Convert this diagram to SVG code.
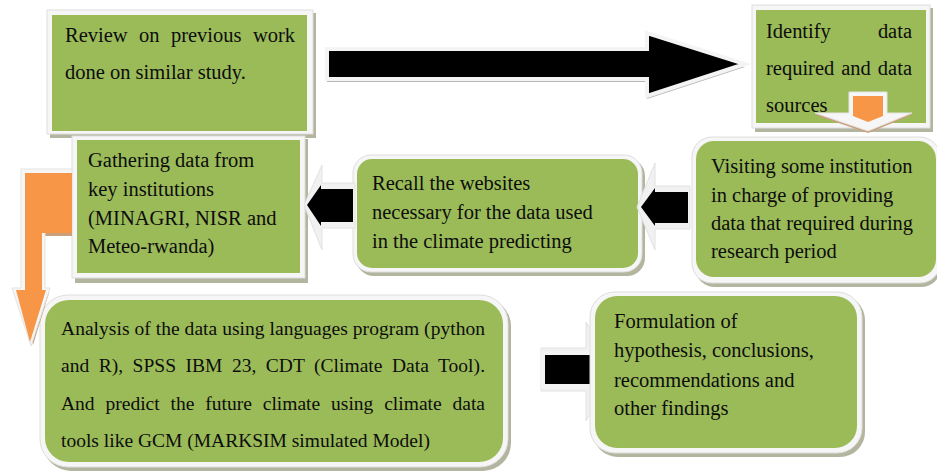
<svg xmlns="http://www.w3.org/2000/svg" width="937" height="472" viewBox="0 0 937 472">
<style>
.frame{fill:#f6f6f6;stroke:#dedede;stroke-width:1}
.fill{fill:#9BBB59}
.shadow{fill:#b3b59f}
.t{font-family:"Liberation Serif","Times New Roman",serif;font-size:20.5px;fill:#0d0d0d}
.s{font-size:19.5px}
.blk{fill:#000;stroke:#f4f4f4;stroke-width:4;stroke-linejoin:miter}
.lite{fill:#f1f1f1;stroke:#e2e2e2;stroke-width:1}
.ashadow{fill:#b8b8b8}
.orange{fill:#F79646}
.oframe{fill:#f6f6f6;stroke:#e3e3e3;stroke-width:1}
.brown{fill:#c9a07a}
</style>
<rect width="937" height="472" fill="#fff"/>

<g id="n1">
<rect class="shadow" x="50" y="13" width="266" height="125"/>
<rect class="frame" x="47" y="10" width="266" height="124"/>
<rect class="fill" x="52" y="15" width="255" height="116"/>
<text class="t" x="65" y="42" word-spacing="6.3" textLength="230" lengthAdjust="spacing">Review on previous work</text>
<text class="t" x="65" y="79">done on similar study.</text>
</g>

<g id="n2">
<rect class="shadow" x="755" y="8" width="178" height="124"/>
<rect class="frame" x="752" y="5" width="178" height="123"/>
<rect class="fill" x="756" y="10" width="170" height="113"/>
<text class="t" x="766" y="38" word-spacing="42" textLength="146" lengthAdjust="spacing">Identify data</text>
<text class="t" x="766" y="75" word-spacing="1.9" textLength="146" lengthAdjust="spacing">required and data</text>
<text class="t" x="766" y="112">sources</text>
</g>

<g id="n3">
<rect class="shadow" x="75" y="139" width="233" height="144"/>
<rect class="frame" x="72" y="136" width="233" height="142"/>
<rect class="fill" x="77" y="140" width="223" height="133"/>
<text class="t" x="88" y="167">Gathering data from</text>
<text class="t" x="88" y="196">key institutions</text>
<text class="t" x="88" y="225">(MINAGRI, NISR and</text>
<text class="t" x="88" y="253">Meteo-rwanda)</text>
</g>

<g id="n4">
<rect class="shadow" x="356" y="158" width="289" height="118" rx="18"/>
<rect class="frame" x="353" y="155" width="289" height="117" rx="18"/>
<rect class="fill" x="357" y="159" width="281" height="109" rx="15"/>
<text class="t" x="372" y="190">Recall the websites</text>
<text class="t" x="372" y="219">necessary for the data used</text>
<text class="t" x="372" y="248">in the climate predicting</text>
</g>

<g id="n5">
<rect class="shadow" x="695" y="140" width="246" height="147" rx="20"/>
<rect class="frame" x="692" y="137" width="248" height="146" rx="20"/>
<rect class="fill" x="696" y="141" width="240" height="136" rx="18"/>
<text class="t" x="711" y="173">Visiting some institution</text>
<text class="t" x="711" y="202">in charge of providing</text>
<text class="t" x="711" y="230">data that required during</text>
<text class="t" x="711" y="258">research period</text>
</g>

<g id="n6">
<rect class="shadow" x="43" y="298" width="468" height="173" rx="28"/>
<rect class="frame" x="40" y="295" width="468" height="172" rx="28"/>
<rect class="fill" x="45" y="300" width="458" height="162" rx="24"/>
<text class="t s" x="61" y="335" textLength="424" lengthAdjust="spacing">Analysis of the data using languages program (python</text>
<text class="t s" x="61" y="372" word-spacing="4.45" textLength="424" lengthAdjust="spacing">and R), SPSS IBM 23, CDT (Climate Data Tool).</text>
<text class="t s" x="61" y="410" word-spacing="6" textLength="424" lengthAdjust="spacing">And predict the future climate using climate data</text>
<text class="t s" x="61" y="447">tools like GCM (MARKSIM simulated Model)</text>
</g>

<g id="connectors">
<polygon class="ashadow" points="327,52 647,52 647,36 745,67 647,99 647,82 327,82"/>
<polygon class="blk" points="327,49 647,49 647,33 745,64 647,96 647,79 327,79"/>

<polygon class="brown" points="849,94 887,94 887,115 912,115 868,133 815,115 849,115"/>
<polygon class="oframe" points="849,92 887,92 887,113 912,113 868,131 815,113 849,113"/>
<polygon class="orange" points="853,96 883,96 883,116 868,122 853,116"/>

<polygon class="lite" points="690,186 655,186 655,163 637,207 655,250 655,229 690,229"/>
<polygon points="688,192 655,192 655,188 641,207 655,226 655,223 688,223" fill="#000"/>

<polygon class="lite" points="355,183 322,183 322,165 304,205 322,250 322,228 355,228"/>
<polygon points="353,189 321,189 321,185 307,205 321,226 321,222 353,222" fill="#000"/>

<polygon points="28,176 72,176 72,236 45,236 45,293 49,293 33,345 19,293 28,293" class="brown"/>
<polygon points="21,169 72,169 72,231 45,231 45,288 50,288 31,346 12,288 21,288" class="oframe"/>
<polygon class="orange" points="25,173 72,173 72,233 42,233 42,290 46,290 30,342 16,290 25,290"/>

<polygon class="lite" points="541,348 586,348 586,322 615,372 586,421 586,391 541,391"/>
<rect x="543" y="353" width="49" height="33" fill="#000" stroke="#f4f4f4" stroke-width="4"/>
</g>

<g id="n7">
<rect class="shadow" x="593" y="295" width="272" height="162" rx="25"/>
<rect class="frame" x="590" y="292" width="272" height="161" rx="25"/>
<rect class="fill" x="595" y="296" width="262" height="152" rx="22"/>
<text class="t" x="614" y="328">Formulation of</text>
<text class="t" x="614" y="357">hypothesis, conclusions,</text>
<text class="t" x="614" y="387">recommendations and</text>
<text class="t" x="614" y="415">other findings</text>
</g>
</svg>
